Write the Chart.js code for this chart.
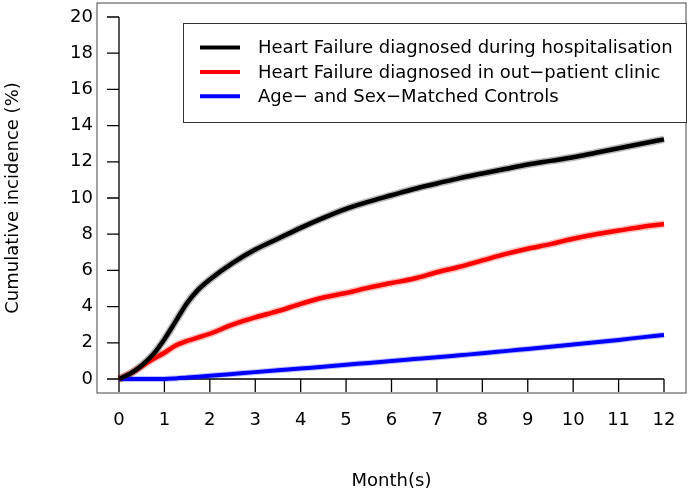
<!DOCTYPE html>
<html>
<head>
<meta charset="utf-8">
<script src="https://cdn.jsdelivr.net/npm/chart.js@4.4.1/dist/chart.umd.min.js"></script>
<style>
  html, body { margin: 0; padding: 0; background: #fff; }
  #wrap { width: 689px; height: 496px; }
</style>
</head>
<body>
<div id="wrap"><canvas id="chart" width="689" height="496"></canvas></div>
<script>
// data
const months = [0, 0.25, 0.5, 0.75, 1, 1.25, 1.5, 1.75, 2, 2.5, 3, 3.5, 4, 4.5, 5, 5.5, 6, 6.5, 7, 7.5, 8, 8.5, 9, 9.5, 10, 10.5, 11, 11.5, 12];
const hospital = [0, 0.3, 0.75, 1.35, 2.2, 3.2, 4.2, 4.95, 5.5, 6.4, 7.15, 7.75, 8.35, 8.9, 9.4, 9.8, 10.15, 10.5, 10.8, 11.1, 11.35, 11.6, 11.85, 12.05, 12.25, 12.5, 12.75, 13.0, 13.24];
const outpatient = [0, 0.3, 0.7, 1.1, 1.45, 1.85, 2.1, 2.3, 2.5, 3.0, 3.4, 3.75, 4.15, 4.5, 4.75, 5.05, 5.3, 5.55, 5.9, 6.2, 6.55, 6.9, 7.2, 7.45, 7.75, 8.0, 8.2, 8.4, 8.56];
const controls = [0, 0, 0, 0, 0, 0.03, 0.08, 0.13, 0.18, 0.28, 0.38, 0.48, 0.58, 0.68, 0.79, 0.89, 1.0, 1.1, 1.2, 1.31, 1.42, 1.54, 1.66, 1.78, 1.9, 2.03, 2.16, 2.3, 2.43];

const seriesLabels = [
  "Heart Failure diagnosed during hospitalisation",
  "Heart Failure diagnosed in out\u2212patient clinic",
  "Age\u2212 and Sex\u2212Matched Controls",
];
const seriesColors = ["#000000", "#ff0000", "#0000ff"];
const bandColors = ["rgba(0,0,0,0.28)", "rgba(255,0,0,0.25)", "rgba(0,0,255,0.25)"];

const monthTicks = [0, 1, 2, 3, 4, 5, 6, 7, 8, 9, 10, 11, 12];
const pctTicks = [0, 2, 4, 6, 8, 10, 12, 14, 16, 18, 20];

const pts = (ys) => months.map((m, i) => ({ x: m, y: ys[i] }));
const allSeries = [hospital, outpatient, controls];

const datasets = [];
allSeries.forEach((ys, i) => {
  datasets.push({
    label: seriesLabels[i],
    data: pts(ys),
    borderColor: seriesColors[i],
    borderWidth: i === 2 ? 4 : 4.5,
    pointRadius: 0,
    cubicInterpolationMode: "monotone",
    order: 1,
  });
});
// faint confidence halo under each curve
allSeries.forEach((ys, i) => {
  datasets.push({
    label: "",
    data: pts(ys),
    borderColor: bandColors[i],
    borderWidth: i === 2 ? 6 : 7.5,
    pointRadius: 0,
    cubicInterpolationMode: "monotone",
    order: 2,
  });
});

Chart.defaults.font.family = "'DejaVu Sans', sans-serif";
Chart.defaults.font.size = 18;
Chart.defaults.color = "#000";

// R style axes at zero, box and legend
const baseAxes = {
  id: "baseAxes",
  beforeDatasetsDraw(chart) {
    const { ctx, chartArea: a, scales: { x, y } } = chart;
    const x0 = x.getPixelForValue(0);
    const y0 = y.getPixelForValue(0);
    ctx.save();
    ctx.strokeStyle = "#444";
    ctx.lineWidth = 1;
    ctx.strokeRect(a.left, a.top, a.width, a.height);

    ctx.strokeStyle = "#000";
    ctx.lineWidth = 1.3;
    ctx.beginPath();
    ctx.moveTo(x.getPixelForValue(monthTicks[0]), y0);
    ctx.lineTo(x.getPixelForValue(monthTicks[monthTicks.length - 1]), y0);
    monthTicks.forEach((m) => {
      const px = x.getPixelForValue(m);
      ctx.moveTo(px, y0);
      ctx.lineTo(px, y0 + 13);
    });
    ctx.moveTo(x0, y.getPixelForValue(pctTicks[0]));
    ctx.lineTo(x0, y.getPixelForValue(pctTicks[pctTicks.length - 1]));
    pctTicks.forEach((v) => {
      const py = y.getPixelForValue(v);
      ctx.moveTo(x0, py);
      ctx.lineTo(x0 - 12, py);
    });
    ctx.stroke();
    ctx.restore();
  },
  afterDatasetsDraw(chart) {
    const { ctx, chartArea: a } = chart;
    const left = a.right - 503;
    const top = a.top + 20;
    ctx.save();
    ctx.fillStyle = "#fff";
    ctx.fillRect(left, top, 503, 99);
    ctx.strokeStyle = "#333";
    ctx.lineWidth = 1;
    ctx.strokeRect(left + 0.5, top + 0.5, 503, 99);
    ctx.font = "18px 'DejaVu Sans'";
    ctx.textBaseline = "middle";
    ctx.fillStyle = "#000";
    seriesLabels.forEach((lab, i) => {
      const yy = top + 24.5 + i * 24.4;
      ctx.strokeStyle = seriesColors[i];
      ctx.lineWidth = 4;
      ctx.beginPath();
      ctx.moveTo(left + 17, yy);
      ctx.lineTo(left + 57, yy);
      ctx.stroke();
      ctx.fillText(lab, left + 75, yy + 1);
    });
    ctx.restore();
  },
};

const noEdgePad = (s) => {
  s.paddingTop = 0;
  s.paddingBottom = 0;
  s.paddingLeft = 0;
  s.paddingRight = 0;
};

new Chart(document.getElementById("chart").getContext("2d"), {
  type: "line",
  data: { datasets },
  options: {
    responsive: false,
    animation: false,
    layout: { padding: { top: 3, right: 3, left: 0, bottom: 0 } },
    plugins: { legend: { display: false }, tooltip: { enabled: false } },
    scales: {
      x: {
        type: "linear",
        min: -0.4844,
        max: 12.4844,
        afterBuildTicks: (s) => { s.ticks = monthTicks.map((v) => ({ value: v })); },
        afterFit: (s) => { s.height = 103; noEdgePad(s); },
        grid: { display: false, drawTicks: false },
        border: { display: false },
        ticks: { autoSkip: false, maxRotation: 0, padding: 17, callback: (v) => v },
        title: { display: true, text: "Month(s)", padding: { top: 4, bottom: 4 } },
      },
      y: {
        min: -0.7735,
        max: 20.7735,
        afterBuildTicks: (s) => { s.ticks = pctTicks.map((v) => ({ value: v })); },
        afterFit: (s) => { s.width = 97; noEdgePad(s); },
        grid: { display: false, drawTicks: false },
        border: { display: false },
        ticks: { autoSkip: false, padding: 4, callback: (v) => v },
        title: { display: true, text: "Cumulative incidence (%)", padding: { top: 3, bottom: 0 } },
      },
    },
  },
  plugins: [baseAxes],
});
</script>
</body>
</html>
